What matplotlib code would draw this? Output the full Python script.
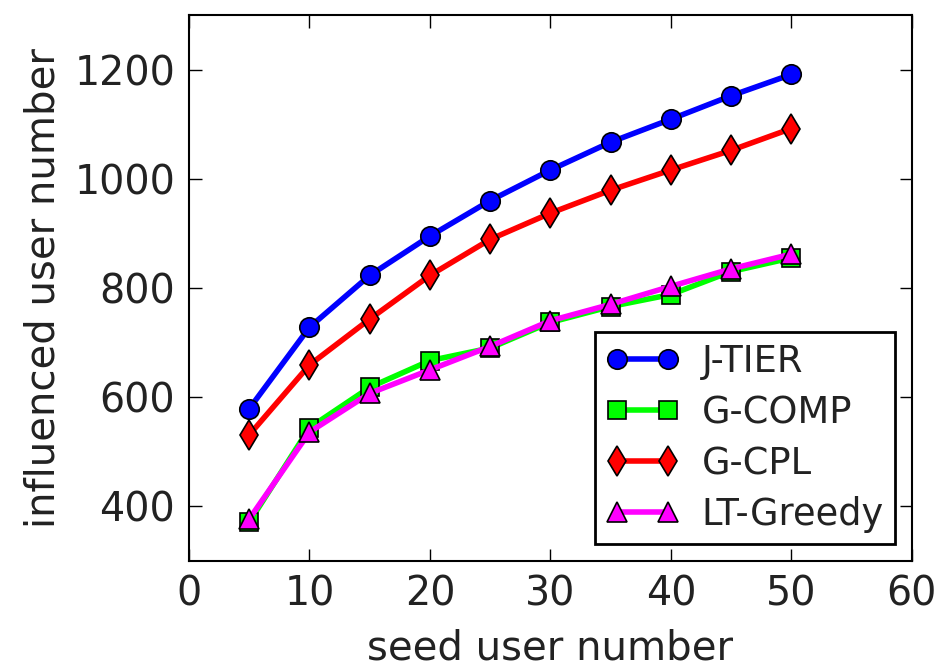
import numpy as np
import matplotlib
matplotlib.use("Agg")
import matplotlib.pyplot as plt

seeds = [5, 10, 15, 20, 25, 30, 35, 40, 45, 50]
j_tier = [579, 728, 823, 895, 960, 1016, 1067, 1109, 1152, 1191]
g_comp = [371, 544, 618, 667, 690, 737, 766, 788, 830, 855]
g_cpl = [531, 659, 743, 823, 889, 937, 979, 1016, 1052, 1092]
lt_greedy = [377, 536, 607, 650, 693, 740, 770, 803, 835, 862]

fig = plt.figure(figsize=(9.41, 6.70), dpi=100)
ax = fig.add_axes([0.2009, 0.1627, 0.768, 0.815])

kw = dict(linewidth=4, markersize=14, markeredgecolor="black", markeredgewidth=1.2)
ax.plot(seeds, j_tier, "-o", color="#0000ff", label="J-TIER", **kw)
ax.plot(seeds, g_comp, "-s", color="#00ff00", label="G-COMP", markersize=13,
        linewidth=4, markeredgecolor="black", markeredgewidth=1.2)
ax.plot(seeds, g_cpl, "-d", color="#ff0000", label="G-CPL", markersize=15,
        linewidth=4, markeredgecolor="black", markeredgewidth=1.2)
ax.plot(seeds, lt_greedy, "-^", color="#ff00ff", label="LT-Greedy", **kw)

ax.set_xlim(0, 60)
ax.set_ylim(300, 1300)
ax.set_xticks(range(0, 61, 10))
ax.set_yticks(range(400, 1201, 200))
ax.tick_params(direction="in", top=True, right=True, length=9, width=1,
               labelsize=28.5, pad=10)
for s in ax.spines.values():
    s.set_linewidth(1.5)

ax.set_xlabel("seed user number", fontsize=29, color="#222222", labelpad=10)
ax.set_ylabel("influenced user number", fontsize=29, color="#222222", labelpad=8)
for lab in ax.get_xticklabels() + ax.get_yticklabels():
    lab.set_color("#222222")

leg = ax.legend(loc="lower right", numpoints=2, fontsize=26.5, fancybox=False,
                framealpha=1, edgecolor="black", handlelength=2.0,
                handletextpad=0.6, borderaxespad=0.46, labelspacing=0.38,
                borderpad=0.3)
leg.get_frame().set_linewidth(2)
for t in leg.get_texts():
    t.set_color("#222222")

fig.savefig("out.png", dpi=100)
